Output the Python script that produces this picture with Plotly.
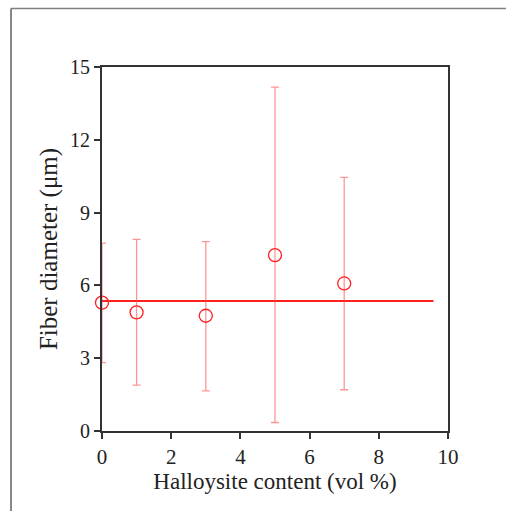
import plotly.graph_objects as go

halloysite = [0, 1, 3, 5, 7]
diameter = [5.29, 4.89, 4.75, 7.25, 6.08]
err_plus = [2.45, 3.01, 3.05, 6.92, 4.37]
err_minus = [2.47, 3.0, 3.1, 6.9, 4.38]
fit_x = [0, 9.58]
fit_y = [5.36, 5.36]

fig = go.Figure()
fig.add_trace(go.Scatter(
    x=fit_x, y=fit_y, mode="lines",
    line=dict(color="#ff2020", width=2), showlegend=False, cliponaxis=False))
fig.add_trace(go.Scatter(
    x=halloysite, y=diameter, mode="markers",
    marker=dict(symbol="circle-open", size=13, color="#ff2020", line=dict(width=1.3)),
    error_y=dict(type="data", symmetric=False, array=err_plus, arrayminus=err_minus,
                 color="rgba(255,80,80,0.6)", thickness=1.3, width=4),
    showlegend=False, cliponaxis=False))

font = "Liberation Serif, Times New Roman, serif"
fx0 = -91 / 346
fy_top = (431 - 8.5) / 364
fig.update_layout(
    width=506, height=511,
    paper_bgcolor="white", plot_bgcolor="white",
    margin=dict(l=102, r=58, t=67, b=80),
    font=dict(family=font, size=19, color="#222"),
    xaxis=dict(range=[0, 10], tickvals=[0, 2, 4, 6, 8, 10], ticks="outside", ticklen=6,
               tickwidth=1.5, tickcolor="#333", showline=True, linecolor="#333", linewidth=2,
               mirror=True, showgrid=False, zeroline=False, tickfont=dict(size=21),
               title=dict(text="Halloysite content (vol %)", font=dict(size=23), standoff=4)),
    yaxis=dict(range=[0, 15], tickvals=[0, 3, 6, 9, 12, 15], ticks="outside", ticklen=6,
               tickwidth=1.5, tickcolor="#333", showline=True, linecolor="#333", linewidth=2,
               mirror=True, showgrid=False, zeroline=False, tickfont=dict(size=20),
               title=dict(text="Fiber diameter (μm)", font=dict(size=25), standoff=5)),
    shapes=[
        dict(type="line", xref="paper", yref="paper", x0=fx0, x1=1.4, y0=fy_top, y1=fy_top,
             line=dict(color="#808080", width=1.5)),
        dict(type="line", xref="paper", yref="paper", x0=fx0, x1=fx0, y0=fy_top, y1=-0.5,
             line=dict(color="#606060", width=1.5)),
    ],
)
fig.write_html("out.html")
